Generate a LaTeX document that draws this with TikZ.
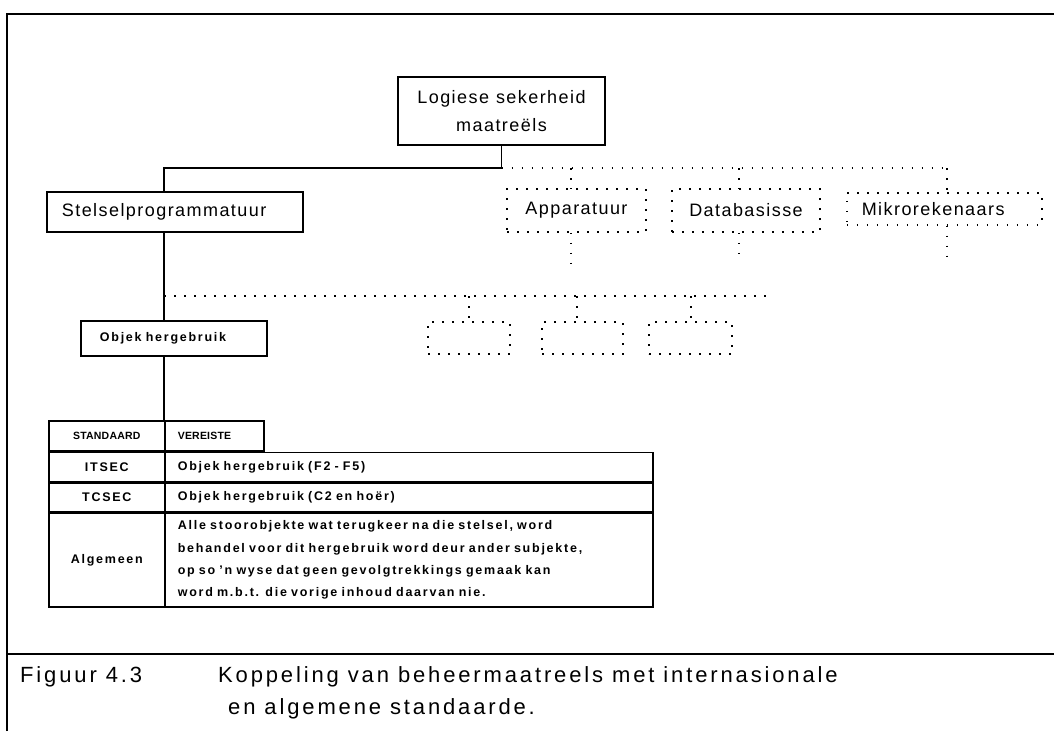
\documentclass[tikz,border=0pt]{standalone}
\usepackage{fontspec}
\setmainfont{Liberation Sans}
\newfontfamily\labelf[LetterSpace=8]{Liberation Sans}
\newfontfamily\tabf[LetterSpace=14]{Liberation Sans Bold}
\newfontfamily\hdf[LetterSpace=2]{Liberation Sans Bold}
\newfontfamily\capf[LetterSpace=13]{Liberation Sans}
% font switches for the labels, the table and the caption
\newcommand\lblfont{\labelf\fontsize{18pt}{28pt}\selectfont\spaceskip 7pt\relax}
\newcommand\tabfont{\tabf\fontsize{12.5pt}{22.3pt}\selectfont\spaceskip 6pt\relax}
\newcommand\hdfont{\hdf\fontsize{10.5pt}{13pt}\selectfont}
\newcommand\capfont{\capf\fontsize{22pt}{26pt}\selectfont}
\begin{document}
\begin{tikzpicture}[x=1pt,y=-1pt,
  conn/.style={line width=1.8pt},
  dotline/.style={line width=1.6pt, dash pattern=on 1.6pt off 8.4pt},
  sbox/.style={draw, line width=1.8pt, inner sep=0pt},
  dbox/.style={draw, dotline, inner sep=0pt},
  lbl/.style={font=\lblfont},
  tabtxt/.style={font=\tabfont},
  hdtxt/.style={font=\hdfont},
  captxt/.style={font=\capfont, inner sep=0pt, anchor=base west},
  cellc/.style={draw, line width=1.6pt, inner sep=0pt, anchor=north west, align=center},
  cellt/.style={draw, line width=1.6pt, inner xsep=13pt, inner ysep=0pt, anchor=north west, align=left}]

\useasboundingbox (0,0) rectangle (1054,731);

% frame and caption divider
\coordinate (fbl) at (7,731);
\coordinate (ftl) at (7,14);
\coordinate (ftr) at (1054,14);
\coordinate (dl) at (7,654);
\coordinate (dr) at (1054,654);
\draw[conn] (fbl) -- (ftl) -- (ftr);
\draw[conn] (dl) -- (dr);

% top of the hierarchy
\node[sbox, lbl, align=center, minimum width=207, minimum height=68] (top) at (501.5,111)
  {Logiese sekerheid\\maatreëls};

% first level
\node[sbox, lbl, anchor=north west, minimum height=40, inner xsep=15pt, text width=226pt, align=left]
  (stel) at (46,191) {Stelselprogrammatuur};
\node[dbox, lbl, minimum width=139, minimum height=43] (app) at (576.5,210.5) {Apparatuur};
\node[dbox, lbl, minimum width=148, minimum height=43] (db) at (746,210.5) {Databasisse};
\node[dbox, lbl, anchor=north west, minimum height=32, inner xsep=15pt, text width=165pt, align=left]
  (mik) at (846,192) {Mikrorekenaars};

% connectors, first level
\coordinate (jx) at (164,0);
\coordinate (j1) at (501.5,168);
\coordinate (t1) at (571,168);
\coordinate (t2) at (739,168);
\coordinate (t3) at (947,168);
\draw[conn] (top.south) -- (j1) -| (stel.north -| jx);
\draw[dotline] (j1) -- (t3);
\draw[dotline] (t1) -- (t1 |- app.north);
\draw[dotline] (t2) -- (t2 |- db.north);
\draw[dotline] (t3) -- (t3 |- mik.north);

\coordinate (e1) at (571,272);
\coordinate (e2) at (739,262);
\coordinate (e3) at (947,262);
\draw[dotline] (e1 |- app.south) -- (e1);
\draw[dotline] (e2 |- db.south) -- (e2);
\draw[dotline] (e3 |- mik.south) -- (e3);

% second level
\node[sbox, tabtxt, anchor=north west, minimum height=35, inner xsep=19pt, text width=148pt, align=left]
  (obj) at (80,320) {Objek hergebruik};
\node[dbox, minimum width=82, minimum height=32] (s1) at (469,338) {};
\node[dbox, minimum width=81, minimum height=32] (s2) at (582.5,338) {};
\node[dbox, minimum width=83, minimum height=32] (s3) at (690.5,338) {};

\coordinate (k1) at (164,296);
\coordinate (k2) at (772,296);
\coordinate (u1) at (469,296);
\coordinate (u2) at (577,296);
\coordinate (u3) at (691,296);
\draw[conn] (stel.south -| jx) -- (obj.north -| jx);
\draw[dotline] (k1) -- (k2);
\draw[dotline] (u1) -- (u1 |- s1.north);
\draw[dotline] (u2) -- (u2 |- s2.north);
\draw[dotline] (u3) -- (u3 |- s3.north);

% requirements table
\node[cellc, hdtxt, minimum width=116, minimum height=30] (hstd) at (48,420) {STANDAARD};
\node[cellt, hdtxt, minimum height=30, text width=73pt] (hver) at (164,420) {VEREISTE};

\node[cellc, tabtxt, minimum width=116, minimum height=29] (r1a) at (48,451.5) {ITSEC};
\node[cellt, tabtxt, minimum height=29, text width=462pt] (r1b) at (164,451.5) {Objek hergebruik (F2 - F5)};

\node[cellc, tabtxt, minimum width=116, minimum height=29] (r2a) at (48,482) {TCSEC};
\node[cellt, tabtxt, minimum height=29, text width=462pt] (r2b) at (164,482) {Objek hergebruik (C2 en hoër)};

\node[cellc, tabtxt, minimum width=116, minimum height=93.5] (r3a) at (48,512.5) {Algemeen};
\node[cellt, tabtxt, minimum height=93.5, text width=462pt] (r3b) at (164,512.5)
  {Alle stoorobjekte wat terugkeer na die stelsel, word\\
   behandel voor dit hergebruik word deur ander subjekte,\\
   op so ’n wyse dat geen gevolgtrekkings gemaak kan\\
   word m.b.t. die vorige inhoud daarvan nie.};

\draw[conn] (obj.south -| jx) -- (hstd.north -| jx);

% caption
\node[captxt] (fig) at (20,682) {Figuur 4.3};
\node[captxt] (cap1) at (218,682) {Koppeling van beheermaatreels met internasionale};
\node[captxt] (cap2) at (228,714) {en algemene standaarde.};
\end{tikzpicture}
\end{document}
